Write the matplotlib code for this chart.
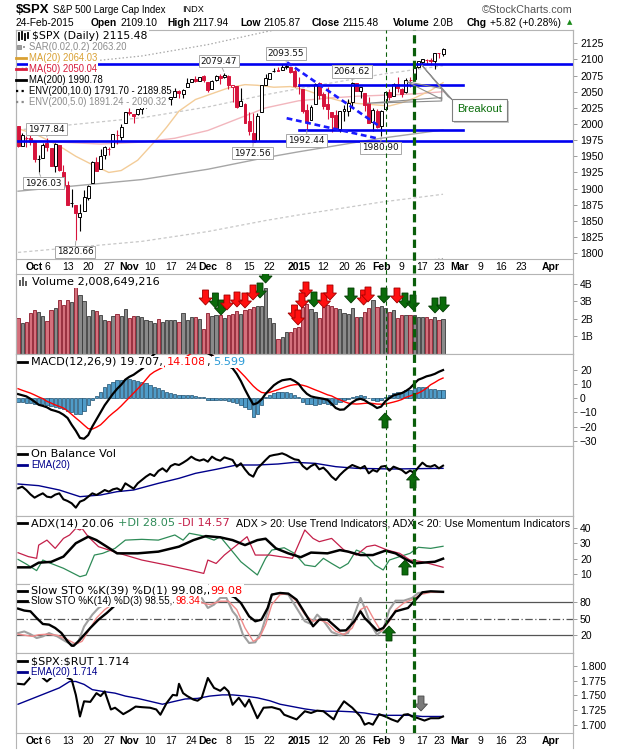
import matplotlib
matplotlib.use("Agg")
import matplotlib.pyplot as plt
from matplotlib.patches import Rectangle, Polygon
from matplotlib.lines import Line2D
from matplotlib.transforms import IdentityTransform

plt.rcParams['font.family'] = ['Liberation Sans', 'DejaVu Sans']

# ---------------------------------------------------------------- data
# trading-day index: 0 = 25-Sep-2014 ... 103 = 24-Feb-2015 (axis runs on into April)
opens = [1997.3,1966.2,1979.0,1978.2,1971.4,1945.8,1948.1,1970.0,1962.4,1935.6,
         1967.7,1925.6,1905.7,1877.1,1874.2,1855.9,1864.9,1885.6,1909.4,1941.3,
         1931.0,1951.6,1962.0,1964.1,1983.3,1979.5,2001.2,2018.2,2015.8,2015.3,
         2023.3,2032.4,2032.0,2038.2,2037.8,2039.2,2039.7,2038.3,2041.5,2051.2,
         2045.9,2057.5,2065.1,2070.2,2067.4,2074.8,2065.8,2053.8,2067.5,2073.6,
         2072.8,2074.8,2056.6,2058.9,2027.9,2030.4,2005.0,1986.7,1973.8,2019.0,
         2061.0,2069.3,2081.5,2083.3,2084.3,2087.6,2088.5,2082.1,2058.9,2054.4,
         2022.2,2005.6,2030.6,2063.5,2046.1,2031.6,2018.4,2013.8,1992.3,2020.8,
         2020.2,2034.3,2063.0,2050.4,2047.9,2032.3,2002.5,2019.4,1996.7,2022.7,
         2048.9,2043.5,2062.3,2053.5,2049.4,2068.6,2070.0,2088.8,2096.5,2099.2,
         2099.3,2097.7,2109.8,2109.1]
highs = [1997.3,1986.4,1981.3,1985.2,1971.4,1952.3,1971.2,1977.8,1962.4,1970.4,
         1967.7,1936.0,1912.1,1898.7,1874.2,1876.0,1898.2,1905.0,1942.5,1949.3,
         1961.9,1965.3,1964.6,1985.1,1991.4,1999.4,2018.2,2024.5,2016.0,2023.8,
         2031.6,2034.3,2038.7,2041.3,2040.3,2046.2,2042.2,2043.1,2056.1,2052.1,
         2053.8,2071.5,2070.2,2074.2,2073.3,2075.8,2065.8,2068.8,2076.3,2077.3,
         2079.5,2075.8,2060.6,2058.9,2055.5,2032.2,2018.7,2016.9,2016.8,2061.2,
         2077.9,2078.8,2086.7,2087.6,2092.7,2093.6,2088.5,2085.6,2072.4,2054.4,
         2030.3,2029.6,2064.1,2064.4,2049.3,2056.9,2018.4,2021.4,2020.5,2028.9,
         2038.3,2064.6,2063.0,2057.6,2047.9,2042.5,2024.6,2023.3,2021.7,2050.3,
         2054.7,2063.6,2072.4,2056.2,2070.9,2073.5,2088.5,2097.0,2101.3,2100.2,
         2102.1,2110.6,2110.1,2117.9]
lows = [1965.2,1966.2,1964.0,1968.0,1941.7,1926.0,1948.1,1958.4,1934.9,1925.3,
        1927.6,1906.1,1874.1,1871.8,1820.7,1835.0,1864.9,1882.3,1909.4,1926.8,
        1931.0,1946.3,1951.4,1964.1,1969.0,1974.2,2001.2,2013.7,2001.0,2014.0,
        2015.9,2025.1,2030.2,2035.3,2031.3,2030.4,2035.2,2030.2,2041.5,2040.4,
        2040.5,2056.8,2065.1,2064.8,2066.6,2065.1,2049.6,2053.8,2066.7,2062.3,
        2070.8,2054.3,2034.2,2024.3,2027.9,2002.3,1982.3,1972.6,1973.8,2019.0,
        2061.0,2069.3,2079.8,2081.9,2084.3,2085.8,2079.5,2057.9,2046.0,2017.3,
        1992.4,2005.6,2030.6,2038.3,2022.6,2008.3,1988.4,1991.5,1988.1,2004.5,
        2012.0,2026.4,2050.5,2041.0,2019.9,2001.5,1989.2,1993.4,1980.9,2022.7,
        2036.7,2043.5,2050.0,2041.9,2048.6,2058.0,2070.0,2086.7,2089.8,2092.2,
        2090.8,2085.4,2103.0,2105.9]
closes = [1966.0,1982.9,1977.8,1972.3,1946.2,1946.2,1967.9,1964.8,1935.1,1968.9,
          1928.2,1906.1,1874.7,1877.7,1862.5,1862.8,1886.8,1904.0,1941.3,1927.1,
          1950.8,1964.6,1961.6,1985.1,1982.3,1994.7,2018.1,2017.8,2012.1,2023.6,
          2031.2,2031.9,2038.3,2039.7,2038.3,2039.3,2039.8,2041.3,2051.8,2048.7,
          2052.8,2063.5,2069.4,2067.0,2072.8,2067.6,2053.4,2066.6,2074.3,2071.9,
          2075.4,2060.3,2059.8,2026.1,2035.3,2002.3,1989.6,1972.7,2012.9,2061.2,
          2070.7,2078.5,2082.2,2081.9,2088.8,2090.6,2080.4,2058.9,2058.2,2020.6,
          2002.6,2025.9,2062.1,2044.8,2028.3,2023.0,2011.3,1992.7,2019.4,2022.6,
          2032.1,2063.2,2051.8,2057.1,2029.6,2002.2,2021.3,1995.0,2020.9,2050.0,
          2041.5,2062.5,2055.5,2046.7,2068.6,2068.5,2088.5,2097.0,2100.3,2099.7,
          2097.5,2110.3,2109.7,2115.5]
volume_b = [2.05,1.76,1.82,2.33,2.49,2.37,2.18,1.88,2.49,2.62,
            3.05,2.77,3.05,2.96,3.81,3.34,3.00,2.14,2.49,2.43,
            2.24,1.92,1.86,2.14,2.28,2.18,2.54,2.05,2.14,2.14,
            2.09,1.95,1.86,1.76,2.01,1.82,1.92,1.92,1.92,1.82,
            2.33,1.92,2.09,2.09,2.00,1.42,2.33,2.14,2.20,2.25,
            2.05,2.25,2.30,2.45,2.30,2.50,2.55,2.70,2.75,2.75,
            3.78,2.05,1.76,0.85,0.97,1.25,1.25,1.48,1.52,2.66,
            2.85,2.55,2.40,2.05,2.70,2.80,2.75,2.65,2.55,2.35,
            2.30,2.60,2.10,2.10,2.40,2.65,3.05,2.70,2.75,2.60,
            2.40,2.50,2.05,2.25,2.25,2.20,2.25,2.09,2.09,2.09,
            2.00,2.10,1.95,2.01]

# price overlays (anchor points: index, value)
ma20_x = [0,5,10,14,18,22,25,29,33,36,39,43,47,51,55,58,62,66,70,74,78,82,86,90,93,96,100,103]
ma20_y = [1993,1982,1966,1950,1937,1925,1928,1944,1972,1995,2020,2038,2047,2056,2061,2060,2057,2058,
          2052,2043,2036,2032,2030,2028,2033,2040,2052,2064.03]
ma50_x = [0,10,20,30,38,46,52,60,68,75,82,90,97,103]
ma50_y = [1976,1972,1969,1972,1978,1990,2005,2025,2036,2040,2043,2045,2047,2050.04]
ma200_x = [0,30,46,60,68,88,103]
ma200_y = [1896,1914,1930,1948,1957,1978,1990.78]
env5_up = [1990.8,2009.7,2026.5,2045.4,2054.9,2076.9,2090.32]
env5_lo = [1801.2,1818.3,1833.5,1850.6,1859.2,1879.1,1891.24]
env10_up = [2085.6,2105.4,2123.0,2142.8,2152.7,2175.8,2189.85]
env10_lo = [1706.4,1722.6,1737.0,1753.2,1761.3,1780.2,1791.70]

# support / resistance lines and trend channel
hline_full = [2092.5, 1974.0]
hline_part = [2061.0, 1990.0]
hline_part_span = (68.2, 107.9)
trend_up = ([65.2, 87.7], [2095.6, 1996.0])
trend_lo = ([65.1, 86.9], [2009.0, 1978.0])
marker_days = [89.07, 96.0]   # Feb-3 (thin) and Feb-12 (thick) markers

# price callouts
ann_idx = [7, 5, 14, 50, 65, 57, 70, 81, 88]
ann_val = [1977.84, 1926.03, 1820.66, 2079.47, 2093.55, 1972.56, 1992.44, 2064.62, 1980.90]
ann_box = [(46.5,129),(43.5,183),(75,252),(219,61),(286,53.5),(252.5,153),(306.5,140.5),(352,71.5),(380.5,148)]

# MACD(12,26,9)
macd = [2.8,2.0,1.2,-0.5,-2.5,-4.7,-5.5,-6.5,-8.2,-9.0,
        -10.0,-11.7,-14.0,-18.8,-23.0,-28.0,-28.6,-26.0,-20.0,-15.0,
        -10.0,-5.0,-1.0,3.0,6.5,9.4,13.0,15.0,16.4,18.5,
        20.5,23.0,28.0,31.0,33.0,34.5,35.5,36.0,36.0,36.0,
        36.0,36.0,36.0,35.0,34.0,33.0,31.5,30.0,27.0,24.5,
        23.0,22.5,21.0,17.0,12.0,6.0,0.5,-4.5,-3.5,-1.0,
        3.0,6.0,9.0,11.0,12.5,13.0,13.4,12.0,10.0,6.0,
        3.0,1.2,0.5,0.0,-0.5,-1.2,-4.0,-7.0,-8.2,-8.0,
        -5.5,-3.0,-1.2,-0.5,-1.5,-3.5,-5.0,-7.0,-6.0,-2.3,
        0.0,1.9,2.7,3.5,5.0,7.0,10.0,12.9,14.0,15.3,
        16.0,17.0,18.5,19.7]
macd_signal = [6.6,5.5,4.5,3.5,2.2,0.8,-0.4,-2.3,-3.5,-4.8,
               -5.9,-7.0,-9.0,-11.5,-14.0,-16.4,-19.0,-21.5,-21.8,-20.5,
               -18.8,-16.0,-13.0,-10.5,-8.2,-5.5,-2.5,0.5,3.5,6.5,
               9.5,13.0,16.4,18.5,20.0,21.5,23.0,24.5,25.5,26.5,
               28.0,29.5,31.5,32.5,33.0,33.0,32.0,30.0,28.5,27.0,
               25.8,24.5,23.0,21.0,18.0,15.0,11.7,8.5,5.9,4.0,
               3.5,4.0,5.0,5.9,7.0,8.0,8.9,9.4,9.5,9.0,
               8.2,7.0,5.8,4.7,3.5,2.3,1.5,0.0,-1.2,-2.5,
               -3.5,-4.0,-4.2,-4.0,-3.7,-3.5,-3.8,-4.2,-4.3,-4.2,
               -3.5,-2.8,-2.0,-1.0,0.5,1.5,2.5,3.5,5.0,7.0,
               9.4,11.0,12.8,14.1]
macd_hist = [-3,-3,-3.5,-3.5,-4,-4.5,-4.5,-5,-5.5,-6,
             -7,-8,-9,-10,-11,-11,-9,-5,-1,1.5,
             4.5,7.5,10,11.5,12.5,13,13.5,13.5,13,12,
             11.5,10.5,9,8,7,5.5,4.5,3.5,3,2.5,
             2.5,2,2,1.5,1,0.5,-1,-1,-1,-1.5,
             -1.5,-2,-3,-3.5,-5,-6,-8,-13,-11.5,-5,
             1,2.5,3.5,4,4.5,4.5,3.5,2.5,0.5,-3,
             -4,-4.5,-5,-4,-3.5,-4,-5,-4.5,-2.5,-1.5,
             -0.5,1,1.5,2.5,1.5,0,-1,-2,-1,0.5,
             2.5,3.5,4,4.5,5.5,6,7,7.5,7.8,7.5,
             6.5,6.3,6,5.6]

# On Balance Volume (relative units)
obv = [83,88,78,65,55,62,68,58,56,64,
       68,50,45,38,25,43,48,58,68,63,
       70,78,73,80,83,76,98,90,82,98,
       108,118,126,120,135,143,133,150,156,153,
       160,168,178,170,166,170,163,178,170,166,
       176,172,168,148,158,140,125,118,143,155,
       168,180,183,185,188,183,176,170,168,150,
       140,150,156,140,145,133,118,108,123,135,
       145,153,148,143,150,128,138,133,148,150,
       136,148,143,138,128,136,130,146,160,150,
       148,153,143,151]
obv_ema_x = [0,5,10,15,20,24,28,34,39,43,48,53,58,63,67,72,77,82,91,103]
obv_ema_y = [96,91,78,58,63,73,78,98,113,128,140,153,153,156,161,158,148,143,141,143]

# ADX(14), +DI, -DI
adx_x = [0,3,5,8,11,14,17,19,21.5,24,29,34,39,42.5,45.5,49,52,55,58,60,62.5,65.5,68.5,71,75,78,80,83,86,89,91.5,94,96,98,101,103]
adx_y = [14.5,14.5,17.5,18,21.4,30,34.2,32,27.8,23.5,23.5,24.6,27.8,32,34.6,33.8,32,28.8,32,32.9,26.7,23.5,21,24,
         23.5,25.6,24.6,22.4,22.4,25.2,23.5,19.6,17,17.5,18.1,20.06]
pdi_x = [0,2,4.5,6,8,11,15,16.5,18.5,20.5,22.5,23.5,26,30,34,38,40,41.5,44.5,47.5,49,51,54,58,60,61.5,64.5,67,69.5,
         72,74,76,78,80,82,84,86.5,88.5,90,92.5,95,97,100,103]
pdi_y = [19.6,16.6,12.4,19.2,17,13.9,8.5,9.6,22.4,23.5,25.6,26.7,32,32.5,32,35.3,32,36.4,34.9,32,34.2,27.8,18.1,9.6,
         20.3,25.6,27.1,23.5,16,15,20.3,17,13.9,17,25.6,23.5,16,12.8,19.2,21.4,23.5,27.4,26.7,28.05]
mdi_x = [0,2.5,4.5,5,7,9,11,12.5,14,15,15.5,17,19.5,24.5,30,36,41.5,45,46,48,50,51.5,53,55.5,57.5,61,63.5,66.5,69.5,
         71.5,73,76,79,82,84.5,86.5,89.5,92.5,95,98,101,103]
mdi_y = [23.9,21.4,20.3,28.8,32,26.7,33.1,35.3,39.6,38.5,39.6,34.2,27.8,23.5,19.2,16,12.8,10.6,19.2,17,22.4,25.6,28.8,
         34.2,22.4,22.4,21.4,20.3,38.5,33.1,31,33.1,25.6,22.4,27.8,28.8,25.6,23.5,19.2,18.1,16,14.57]

# Slow stochastics
k39_x = [0,1.5,3,4.5,6,7.5,9,10.5,12,13,13.5,15,17.5,19.5,21.5,23,25,27,30,33,36,40,44,47,50,52.5,54,56,57.5,59,60.5,61.5,
         63.5,65.5,67.5,69.5,71.5,73,75,78,79.5,81.5,83,84,86,87,88.5,90,91.5,94.5,96,98,100,103]
k39_y = [68.5,65,63.6,51.5,40.6,39.4,33.3,24.2,9,1,1,12,33.3,48.5,60.6,71,85,95,96,97,96,98,99,96,97,89,78.8,54.5,45.5,
         48.5,69.7,94,97,95.8,84.8,60.6,36.4,48.5,48.5,28.5,29,45.5,63.6,51.5,36.4,28.5,33.3,48.5,63.6,69.7,81.8,98.2,100,99.08]
k14_x = [0,1.5,3,4.5,6,7.5,9.5,11.5,13,14.5,16,18,19.5,21.5,23,25,28,31,34,37,40,43,44.5,46,47.5,49,50.5,52,53,54.5,56,
         57.5,59,60.5,61.5,63.5,65.5,67.5,69.5,71,72.5,74,76,78,80,81.5,83,84,85.5,87,88.5,90,91.5,93.5,95.5,97,99,103]
k14_y = [24,27,22,15,18,24,18,9,3,6,36,57.6,69.7,78.8,88,95,92,96,90,95,97,94,87.9,69.7,75.8,88,88,63.6,54.5,21.2,6,
         7.3,27.3,63.6,94,97,94,69.7,45.5,40.6,57.6,46.7,26,20,24.2,57.6,87.9,69.7,39.4,21.2,30.3,66.7,83,83,87.9,97,98.8,98.55]
d3_x = [0,3.5,5,7,9.5,12,14,15.5,17,19,21,23,25,28,31,34,37,40,43,44.5,46.5,49,51,53,55,57,58.5,60,61.5,63.5,65.5,67.5,
        69.5,71.5,73,75,77,79,81,83,84.5,86.5,88,90,91.5,93.5,95.5,97.5,100,103]
d3_y = [22,18,21,22,20,12,4.2,9,27,51.5,66.7,77,88,92,94,92,94,96,94,79,75.8,82,82,66.7,33.3,9,15,39.4,75.8,94,95.8,81.8,
        57.6,45.5,48.5,42.4,27.3,21.2,33.3,66.7,72.7,45.5,27.3,45.5,66.7,78.8,84.8,94,98.2,98.34]

# $SPX:$RUT ratio
ratio_x = [0,1.5,2.5,3.5,5,6,7,8,9,10.5,12,13,14,15,16,17.5,19,20,21,22.5,23.5,25.5,27,28.5,30,32,33.5,34.5,36,37.5,38.5,
           39,40,41,42.5,43.5,44.5,46,47.5,49,50,51,52,53.5,55,56,58,59.5,61.5,63.5,64.5,66,67.5,69.5,71,72.5,74,76.5,77.5,
           79,81,83,84,85,86,87.5,89,90.5,92,93.5,94.5,95.5,97,98.5,100,102,103]
ratio_y = [1.770,1.769,1.777,1.785,1.790,1.780,1.774,1.780,1.786,1.790,1.780,1.777,1.751,1.714,1.740,1.739,1.754,1.749,
           1.757,1.726,1.729,1.718,1.724,1.731,1.730,1.729,1.726,1.717,1.737,1.751,1.750,1.770,1.754,1.749,1.743,1.741,
           1.746,1.780,1.763,1.758,1.764,1.757,1.734,1.746,1.731,1.743,1.711,1.729,1.730,1.726,1.717,1.713,1.709,1.723,
           1.720,1.724,1.723,1.709,1.724,1.740,1.729,1.714,1.700,1.703,1.700,1.718,1.714,1.709,1.705,1.717,1.718,1.714,
           1.711,1.707,1.711,1.711,1.714]
ratio_ema_x = [0,5,10,12.5,14,16,18,20.5,23.5,26,29,32,35,38,40.5,43.5,46.5,49.5,52,55,58,61,63.5,66.5,69.5,72.5,75,78,
               81,84,86.5,89.5,95,98,103]
ratio_ema_y = [1.735,1.749,1.763,1.774,1.774,1.769,1.760,1.757,1.754,1.749,1.745,1.740,1.735,1.740,1.744,1.745,1.749,
               1.751,1.751,1.749,1.746,1.741,1.735,1.731,1.727,1.724,1.723,1.723,1.722,1.720,1.717,1.716,1.716,1.714,1.714]

# x-axis labels
tick_pos = [4,7,12,17,22,27,32,37,42,46,51,56,61,68,74,79,83,88,93,98,102,107,112,117,122,129]
tick_lab = ['Oct','6','13','20','27','Nov','10','17','24','Dec','8','15','22','2015','12','20','26',
            'Feb','9','17','23','Mar','9','16','23','Apr']
bold_labels = {'Oct','Nov','Dec','2015','Feb','Mar','Apr'}

# ---------------------------------------------------------------- layout
W, H, DPI = 620, 750, 100
LEFT, RIGHT = 16, 573
XMIN, XMAX = -0.5, 134.5
n = len(closes)

fig = plt.figure(figsize=(W / DPI, H / DPI), dpi=DPI)
fig.patch.set_facecolor('white')
FR = '#b4b4b4'

def make_ax(top, bottom):
    ax = fig.add_axes([LEFT / W, 1 - bottom / H, (RIGHT - LEFT) / W, (bottom - top) / H])
    ax.set_facecolor('white')
    for sp in ax.spines.values():
        sp.set_color(FR)
        sp.set_linewidth(0.8)
    ax.yaxis.tick_right()
    ax.tick_params(axis='y', length=3, width=0.6, color='#8c8c8c', labelsize=7.5, pad=2)
    ax.tick_params(axis='x', length=0, labelbottom=False)
    return ax

def px2disp(x, y):
    return (x, H - y)

def block_arrow(ax, x, ytip, up, color, edge):
    hw, hl, sw, L = 6.5, 7.0, 3.0, 15.0
    d = 1 if up else -1
    pts = [(x, ytip), (x - hw, ytip + d * hl), (x - sw, ytip + d * hl), (x - sw, ytip + d * L),
           (x + sw, ytip + d * L), (x + sw, ytip + d * hl), (x + hw, ytip + d * hl)]
    ax.add_patch(Polygon([px2disp(*p) for p in pts], closed=True, transform=IdentityTransform(),
                         fc=color, ec=edge, lw=0.6, zorder=8))

GREEN, GREEN_E = '#0b6b0b', '#043d04'
RED, RED_E = '#ff1010', '#a00000'

# ---------------- price panel
axp = make_ax(30, 259)
axp.plot(ma200_x, env10_up, color='#a8a8a8', lw=0.9, ls=(0, (1.2, 1.8)), zorder=1)
axp.plot(ma200_x, env10_lo, color='#a8a8a8', lw=0.9, ls=(0, (1.2, 1.8)), zorder=1)
axp.plot(ma200_x, env5_up, color='#c8c8c8', lw=0.9, ls=(0, (2.5, 2.0)), zorder=1)
axp.plot(ma200_x, env5_lo, color='#c8c8c8', lw=0.9, ls=(0, (2.5, 2.0)), zorder=1)
axp.plot(ma200_x, ma200_y, color='#a6a6a6', lw=1.0, zorder=1)
axp.plot(ma50_x, ma50_y, color='#f2b6bd', lw=1.0, zorder=1)
axp.plot(ma20_x, ma20_y, color='#f3cc98', lw=1.0, zorder=1)

for i in range(n):
    o, h, l, c = opens[i], highs[i], lows[i], closes[i]
    prev = closes[i - 1] if i > 0 else o
    col = '#000000' if c >= prev else '#d7143c'
    hollow = c >= o
    axp.plot([i, i], [l, h], color=col, lw=0.8, zorder=3, solid_capstyle='butt')
    bot, ht = min(o, c), max(abs(c - o), 0.4)
    axp.add_patch(Rectangle((i - 0.36, bot), 0.72, ht, fc='white' if hollow else col, ec=col, lw=0.7, zorder=4))

for yv in hline_full:
    axp.axhline(yv, color='#0000f0', lw=1.9, zorder=5)
for yv in hline_part:
    axp.plot(hline_part_span, [yv, yv], color='#0000f0', lw=1.9, zorder=5)
axp.plot(*trend_up, color='#1a1aff', lw=1.9, ls=(0, (2.2, 1.4)), zorder=5)
axp.plot(*trend_lo, color='#1a1aff', lw=1.9, ls=(0, (2.2, 1.4)), zorder=5)

axp.set_xlim(XMIN, XMAX)
axp.set_ylim(1791, 2145.6)
axp.set_yticks(list(range(1800, 2126, 25)))
axp.set_xticks(tick_pos)
axp.set_xticklabels(tick_lab)
axp.tick_params(axis='x', labelbottom=True, length=0, pad=2.5, labelsize=7.5)
for lab in axp.get_xticklabels():
    lab.set_fontweight('bold' if lab.get_text() in bold_labels else 'normal')

for xi, v, (bx, by) in zip(ann_idx, ann_val, ann_box):
    axp.annotate(f"{v:.2f}", xy=(xi, v), xytext=(bx, H - by), textcoords='figure pixels',
                 ha='center', va='center', fontsize=6.4, family='DejaVu Sans', color='#111111',
                 bbox=dict(boxstyle='square,pad=0.2', fc='white', ec='#a8a8a8', lw=0.7),
                 arrowprops=dict(arrowstyle='-', color='#a8a8a8', lw=0.7, shrinkA=0, shrinkB=1),
                 zorder=7)

# Breakout callout (pointer wedges + shadowed box)
for apex, b1, b2 in [((421.7, 65), (448, 96.5), (452, 99.5)),
                     ((406.7, 81.7), (441.7, 88.5), (441.7, 99.3)),
                     ((366.7, 103.3), (441.7, 97.5), (441.7, 101.0))]:
    axp.add_patch(Polygon([px2disp(*apex), px2disp(*b1), px2disp(*b2)], closed=True,
                          transform=IdentityTransform(), fc='none', ec='#8c8c8c', lw=0.8, zorder=6))
axp.add_patch(Rectangle(px2disp(454, 122.5), 55, 22, transform=IdentityTransform(), fc='#c8c8c8', ec='none', zorder=6))
axp.add_patch(Rectangle(px2disp(452, 120.5), 55, 22, transform=IdentityTransform(), fc='white', ec='#808080', lw=0.8, zorder=7))
fig.text(479.5 / W, 1 - 109.5 / H, 'Breakout', color='#0a6e0a', fontsize=8, ha='center', va='center', zorder=8)

# ---------------- volume panel
axv = make_ax(274, 354)
for i in range(n):
    prev = closes[i - 1] if i > 0 else opens[i]
    down = closes[i] < prev
    axv.bar(i, volume_b[i], width=0.78, color='#d4707c' if down else '#8a8a8a',
            edgecolor='#8b1a2b' if down else '#3a3a3a', lw=0.6, zorder=2)
axv.set_xlim(XMIN, XMAX)
axv.set_ylim(0, 4.56)
axv.set_yticks([1, 2, 3, 4])
axv.set_yticklabels(['1B', '2B', '3B', '4B'])
for x, yt in [(265.6, 283), (260, 298), (215.4, 308), (221, 315), (314, 307), (351, 303), (384, 303),
              (405, 308), (413, 310), (435, 313), (443, 312)]:
    block_arrow(axv, x, yt, False, GREEN, GREEN_E)
for x, yt in [(205.5, 305), (227, 310), (237, 307), (245, 308), (253, 300), (294.5, 320), (298, 325),
              (306, 297), (302, 308), (324, 308), (330, 300), (363.6, 305), (368, 302), (397, 303)]:
    block_arrow(axv, x, yt, False, RED, RED_E)

# ---------------- MACD panel
axm = make_ax(354, 446)
xs = list(range(n))
axm.bar(xs, macd_hist, width=0.8, color='#4f9cc9', edgecolor='#1d4e6e', lw=0.5, zorder=2)
axm.plot(xs, macd_signal, color='#ff0000', lw=1.0, zorder=3)
axm.plot(xs, macd, color='#000000', lw=1.6, zorder=4)
axm.set_xlim(XMIN, XMAX)
axm.set_ylim(-33.7, 31)
axm.set_yticks([-30, -20, -10, 0, 10, 20])
block_arrow(axm, 385, 413, True, GREEN, GREEN_E)

# ---------------- OBV panel
axo = make_ax(446, 516)
axo.plot(obv_ema_x, obv_ema_y, color='#00008b', lw=1.0, zorder=2)
axo.plot(xs, obv, color='#000000', lw=1.5, zorder=3)
axo.set_xlim(XMIN, XMAX)
axo.set_ylim(0, 210)
axo.set_yticks([])
block_arrow(axo, 413, 473, True, GREEN, GREEN_E)

# ---------------- ADX panel
axa = make_ax(516, 584)
axa.plot(pdi_x, pdi_y, color='#2e8b57', lw=0.9, zorder=2)
axa.plot(mdi_x, mdi_y, color='#c4204a', lw=0.9, zorder=2)
axa.plot(adx_x, adx_y, color='#000000', lw=1.8, zorder=3)
axa.set_xlim(XMIN, XMAX)
axa.set_ylim(3.8, 47.5)
axa.set_yticks([10, 20, 30, 40])
block_arrow(axa, 405, 560, True, GREEN, GREEN_E)

# ---------------- Stochastics panel
axs = make_ax(584, 653)
for lvl, st in [(80, '-'), (20, '-'), (50, (0, (6, 2, 1, 2)))]:
    axs.axhline(lvl, color='#555555', lw=0.9, ls=st, zorder=1)
axs.plot(k14_x, k14_y, color='#a0a0a0', lw=1.5, zorder=2)
axs.plot(d3_x, d3_y, color='#f08a8a', lw=1.0, zorder=3)
axs.plot(k39_x, k39_y, color='#000000', lw=1.7, zorder=4)
axs.set_xlim(XMIN, XMAX)
axs.set_ylim(-12.2, 113.3)
axs.set_yticks([20, 50, 80])
block_arrow(axs, 389, 626, True, GREEN, GREEN_E)

# ---------------- SPX:RUT panel
axr = make_ax(653, 733)
axr.plot(ratio_ema_x, ratio_ema_y, color='#00008b', lw=1.0, zorder=2)
axr.plot(ratio_x, ratio_y, color='#000000', lw=1.5, zorder=3)
axr.set_xlim(XMIN, XMAX)
axr.set_ylim(1.6857, 1.8228)
axr.set_yticks([1.700, 1.725, 1.750, 1.775, 1.800])
axr.set_yticklabels(['1.700', '1.725', '1.750', '1.775', '1.800'])
axr.set_xticks(tick_pos)
axr.set_xticklabels(tick_lab)
axr.tick_params(axis='x', labelbottom=True, length=0, pad=2.5, labelsize=7.5)
for lab in axr.get_xticklabels():
    lab.set_fontweight('bold' if lab.get_text() in bold_labels else 'normal')
block_arrow(axr, 421, 711, False, '#7a7a7a', '#4a4a4a')

# ---------------- vertical marker lines across all panels
axo_line = fig.add_axes([LEFT / W, 1 - 733 / H, (RIGHT - LEFT) / W, (733 - 30) / H], zorder=10)
axo_line.set_xlim(XMIN, XMAX)
axo_line.set_ylim(0, 1)
axo_line.axis('off')
axo_line.patch.set_alpha(0)
axo_line.axvline(marker_days[0], color='#0a5e0a', lw=0.8, ls=(0, (4, 3)))
axo_line.axvline(marker_days[1], color='#0a5e0a', lw=2.3, ls=(0, (2.6, 1.4)))

# frame lines for the label strips
for x in (LEFT, RIGHT):
    fig.add_artist(Line2D([x / W, x / W], [1 - 748 / H, 1 - 30 / H], color=FR, lw=0.8))

# ---------------- text
fig.canvas.draw()
R = fig.canvas.get_renderer()
LEG = 'DejaVu Sans'          # wide legend face (main rows)
LEG2 = 'Liberation Sans'     # narrower legend face (secondary rows)

def twidth(s, size, family, weight='normal'):
    t = fig.text(0, 0, s, fontsize=size, family=family, weight=weight, parse_math=False)
    w = t.get_window_extent(R).width
    t.remove()
    return w

def fit(s, width, family, weight='normal'):
    return 8.0 * width / twidth(s, 8.0, family, weight)

def put(x, y, s, size, color='black', family=LEG, weight='normal', bg=True, ha='left'):
    kw = dict(bbox=dict(boxstyle='square,pad=0.12', fc='white', ec='none')) if bg else {}
    return fig.text(x / W, 1 - y / H, s, fontsize=size, color=color, family=family, weight=weight,
                    ha=ha, va='center', parse_math=False, **kw)

def chain(x, y, parts, size, family=LEG, bg=True):
    sp = twidth('a a', size, family) - twidth('aa', size, family)
    for s, color, weight, gap in parts:
        t = put(x, y, s, size, color, family, weight, bg)
        x = t.get_window_extent(R).x1 + (sp if gap else 0)
    return x

def icon_line(x0, x1, y, color, lw=2.0, ls='-'):
    fig.add_artist(Line2D([x0 / W, x1 / W], [1 - y / H, 1 - y / H], color=color, lw=lw, ls=ls, zorder=5))

# header
put(16, 10, '$SPX', fit('$SPX', 33.5, 'Liberation Sans', 'bold'), family='Liberation Sans', weight='bold', bg=False)
put(53, 10, 'S&P 500 Large Cap Index', fit('S&P 500 Large Cap Index', 114, 'Liberation Sans'),
    family='Liberation Sans', bg=False)
put(182, 10, 'INDX', 6.6, family='Liberation Sans', bg=False)
put(573, 10, '\u00a9StockCharts.com', fit('\u00a9StockCharts.com', 90, 'Liberation Sans'), color='#555555',
    family='Liberation Sans', bg=False, ha='right')
hs = fit('24-Feb-2015', 59, 'Liberation Sans')
put(16, 23, '24-Feb-2015', hs, family='Liberation Sans', bg=False)
for x, lab, val in [(91, 'Open', '2109.10'), (167, 'High', '2117.94'), (240, 'Low', '2105.87'),
                    (312, 'Close', '2115.48'), (393, 'Volume', '2.0B'), (467, 'Chg', '+5.82 (+0.28%)')]:
    chain(x, 23, [(lab, 'black', 'bold', True), (val, 'black', 'normal', False)], hs,
          family='Liberation Sans', bg=False)
put(570, 22, '\u25b2', 5.0, color='#1a8a1a', family='DejaVu Sans', bg=False, ha='center')

# price legend
ls1 = fit('$SPX (Daily) 2115.48', 116, LEG)
ls2 = fit('ENV(200,10.0) 1791.70 - 2189.85', 143, LEG2)
put(32, 36, '$SPX (Daily) 2115.48', ls1)
for dx, y0, y1 in [(19, 33, 40), (22, 32, 39), (25, 34, 40), (28, 33, 38)]:
    fig.add_artist(Line2D([dx / W, dx / W], [1 - y1 / H, 1 - y0 / H], color='black', lw=1.3))
rows = [('SAR(0.02,0.2) 2063.20', '#8c8c8c'), ('MA(20) 2064.03', '#d9a032'), ('MA(50) 2050.04', '#d71b3b'),
        ('MA(200) 1990.78', '#000000'), ('ENV(200,10.0) 1791.70 - 2189.85', '#000000'),
        ('ENV(200,5.0) 1891.24 - 2090.32', '#8c8c8c')]
for k, (s, c) in enumerate(rows):
    y = 47.3 + k * 11.0
    put(29, y, s, ls2, color=c, family=LEG2)
    if k == 0:
        fig.add_artist(Rectangle(((17) / W, 1 - (y + 2) / H), 4 / W, 4 / H, transform=fig.transFigure,
                                 fc='#a0a0a0', ec='#808080', lw=0.5))
        fig.add_artist(Rectangle(((23) / W, 1 - (y + 1) / H), 2 / W, 2 / H, transform=fig.transFigure,
                                 fc='#a0a0a0', ec='none'))
    elif k <= 3:
        icon_line(16, 26, y, c, lw=2.0)
    else:
        icon_line(16, 26, y, c, lw=1.6, ls=(0, (1, 1.5)))

# indicator legends: main rows wide face, secondary rows narrower face
ils = fit('Slow STO %K(39) %D(1) 99.08, 99.08', 212, LEG)
ils2 = fit('Slow STO %K(14) %D(3) 98.55, 98.34', 169, LEG2)
# volume
for dx, hgt in [(19, 6), (22, 9), (25, 5)]:
    fig.add_artist(Rectangle((dx / W, 1 - 286 / H), 2 / W, hgt / H, transform=fig.transFigure,
                             fc='#606060', ec='none'))
put(32, 282, 'Volume 2,008,649,216', ils)
# MACD
icon_line(18, 27, 362, 'black')
chain(31, 362, [('MACD(12,26,9) 19.707,', 'black', 'normal', True), ('14.108', '#ff0000', 'normal', False),
                (',', 'black', 'normal', True), ('5.599', '#2a9ad6', 'normal', False)], ils)
# OBV
icon_line(18, 27, 454, 'black')
put(31, 454, 'On Balance Vol', ils)
icon_line(18, 27, 465, '#00008b')
put(31, 465, 'EMA(20)', ils2, color='#00008b', family=LEG2)
# ADX
icon_line(18, 27, 523, 'black')
chain(31, 523, [('ADX(14) 20.06', 'black', 'normal', True), ('+DI 28.05', '#2e8b57', 'normal', True),
                ('-DI 14.57', '#c4204a', 'normal', False)], ils)
put(236, 523, 'ADX > 20: Use Trend Indicators, ADX < 20: Use Momentum Indicators',
    fit('ADX > 20: Use Trend Indicators, ADX < 20: Use Momentum Indicators', 331, 'Liberation Sans'),
    family='Liberation Sans', bg=False)
# STO
icon_line(18, 27, 590.5, 'black')
chain(31, 590.5, [('Slow STO %K(39) %D(1) 99.08,', 'black', 'normal', True), ('99.08', '#ff0000', 'normal', False)], ils)
icon_line(18, 27, 601, 'black')
chain(31, 601, [('Slow STO %K(14) %D(3) 98.55,', 'black', 'normal', True), ('98.34', '#ff0000', 'normal', False)],
      ils2, family=LEG2)
# ratio
icon_line(18, 27, 661, 'black')
put(31, 661, '$SPX:$RUT 1.714', ils)
icon_line(18, 27, 672, '#00008b')
put(31, 672, 'EMA(20) 1.714', ils2, color='#00008b', family=LEG2)

fig.savefig('out.png', dpi=DPI, facecolor='white')
